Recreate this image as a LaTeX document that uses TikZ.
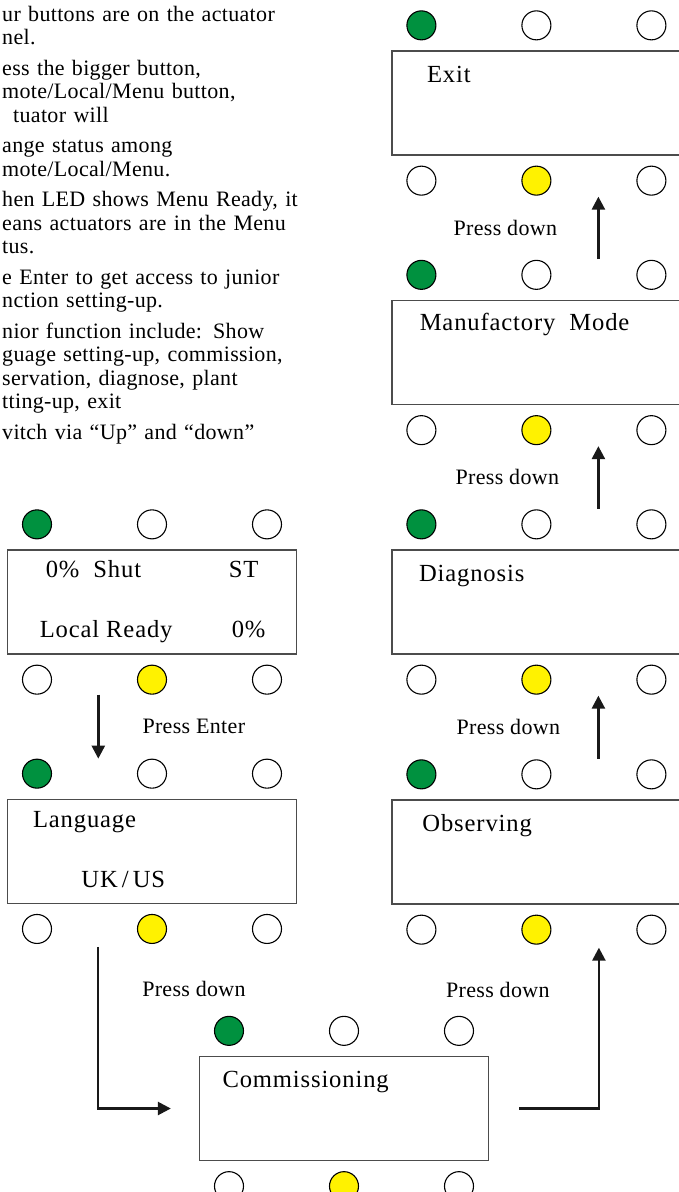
\documentclass[tikz,border=0pt]{standalone}
\usepackage{fontspec}
\setmainfont{Liberation Serif}[LetterSpace=1.5]
\usepackage{tikz}
\usepackage{xcolor}
\usetikzlibrary{arrows.meta, positioning}

\definecolor{ledgreen}{RGB}{0,145,63}
\definecolor{ledyellow}{RGB}{255,242,0}

\tikzset{
    lcd-box/.style = {draw=black!70, line width=1.3pt, rectangle, minimum width=289pt, minimum height=104pt, inner sep=0pt},
    led/.style = {draw=black, line width=1.1pt, circle, minimum size=29pt, inner sep=0pt},
    led-off/.style = {led, fill=white},
    led-green/.style = {led, fill=ledgreen},
    led-yellow/.style = {led, fill=ledyellow},
    lcd-text/.style = {anchor=base west, inner sep=0pt, font=\fontsize{24.6}{28}\selectfont\addfontfeatures{LetterSpace=3.5}},
    press-label/.style = {inner sep=0pt},
    notes-text/.style = {anchor=base west, inner sep=0pt, text width=340pt, align=left},
    flow-arrow/.style = {line width=2.5pt, draw=black!90, -{Triangle[length=13pt, width=13pt]}},
}

\begin{document}
\begin{tikzpicture}[x=1pt, y=-1pt, font=\fontsize{22}{23.5}\selectfont]
\useasboundingbox (0,0) rectangle (679,1192);

% notes at the top left
\node[notes-text] (notes) at (2,21) {ur buttons are on the actuator\\
nel.\\[7pt]
ess the bigger button,\\
mote/Local/Menu button,\\
\hspace*{11pt}tuator will\\[7pt]
ange status among\\
mote/Local/Menu.\\[7pt]
hen LED shows Menu Ready, it\\
eans actuators are in the Menu\\
tus.\\[7pt]
e Enter to get access to junior\\
nction setting-up.\\[7pt]
nior function include: Show\\
guage setting-up, commission,\\
servation, diagnose, plant\\
tting-up, exit\\[7pt]
vitch via “Up” and “down”};

% displays
\node[lcd-box] (status) at (152,602) {};
\node[lcd-box] (language) at (152,851.3) {};
\node[lcd-box] (commission) at (344,1108.5) {};
\node[lcd-box] (observing) at (536.4,852) {};
\node[lcd-box] (diagnosis) at (536.4,602) {};
\node[lcd-box] (manufactory) at (536.4,352.5) {};
\node[lcd-box] (exit) at (536.4,103) {};

\node[lcd-text] at ([xshift=38.7pt, yshift=-28pt]status.north west) {0\%\ \ Shut};
\node[lcd-text] at ([xshift=221.7pt, yshift=-28pt]status.north west) {ST};
\node[lcd-text] at ([xshift=32.7pt, yshift=-87.7pt]status.north west) {Local Ready};
\node[lcd-text] at ([xshift=224.7pt, yshift=-87.7pt]status.north west) {0\%};
\node[lcd-text] at ([xshift=26pt, yshift=-29pt]language.north west) {Language};
\node[lcd-text] at ([xshift=74.4pt, yshift=-89pt]language.north west) {UK\,/\,US};
\node[lcd-text] at ([xshift=23.5pt, yshift=-32pt]commission.north west) {Commissioning};
\node[lcd-text] at ([xshift=31pt, yshift=-31.7pt]observing.north west) {Observing};
\node[lcd-text] at ([xshift=27.6pt, yshift=-31.7pt]diagnosis.north west) {Diagnosis};
\node[lcd-text] at ([xshift=28.3pt, yshift=-31pt]manufactory.north west) {Manufactory\ \ Mode};
\node[lcd-text] at ([xshift=35.6pt, yshift=-31.7pt]exit.north west) {Exit};

% leds above and below every display
\foreach \b in {status, language, commission, observing, diagnosis, manufactory, exit} {
    \node[led-green]  (\b-tl) at ([xshift=-115pt, yshift=25pt]\b.north) {};
    \node[led-off]    (\b-tm) at ([yshift=25pt]\b.north) {};
    \node[led-off]    (\b-tr) at ([xshift=115pt, yshift=25pt]\b.north) {};
    \node[led-off]    (\b-bl) at ([xshift=-115pt, yshift=-25pt]\b.south) {};
    \node[led-yellow] (\b-bm) at ([yshift=-25pt]\b.south) {};
    \node[led-off]    (\b-br) at ([xshift=115pt, yshift=-25pt]\b.south) {};
}

% flow
\draw[flow-arrow] ([xshift=-53.7pt, yshift=-40pt]status.south) -- ([xshift=-53.7pt, yshift=40pt]language.north)
    node[press-label, midway, right=43pt] {Press Enter};
\draw[flow-arrow] ([xshift=-54pt, yshift=-43pt]language.south) |- ([xshift=-28pt]commission.west)
    node[press-label, pos=0.13, right=43pt] {Press down};
\draw[flow-arrow] ([xshift=30pt]commission.east) -| ([xshift=62.5pt, yshift=-43pt]observing.south)
    node[press-label, pos=0.87, left=48pt] {Press down};
\draw[flow-arrow] ([xshift=62pt, yshift=40.7pt]observing.north) -- ([xshift=62pt, yshift=-41pt]diagnosis.south)
    node[press-label, midway, left=37pt] {Press down};
\draw[flow-arrow] ([xshift=62pt, yshift=40.7pt]diagnosis.north) -- ([xshift=62pt, yshift=-41pt]manufactory.south)
    node[press-label, midway, left=38pt] {Press down};
\draw[flow-arrow] ([xshift=62pt, yshift=40.7pt]manufactory.north) -- ([xshift=62pt, yshift=-41pt]exit.south)
    node[press-label, midway, left=40pt] {Press down};
\end{tikzpicture}
\end{document}
